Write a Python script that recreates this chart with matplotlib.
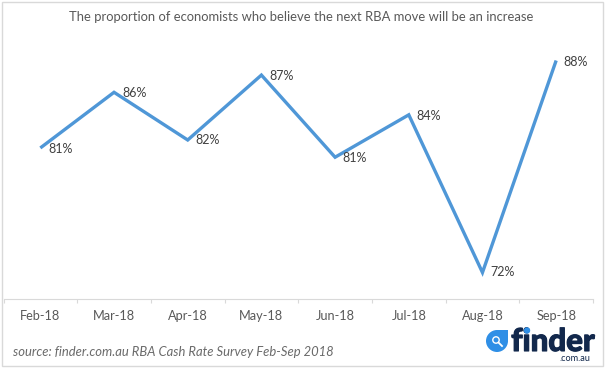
import matplotlib
matplotlib.use("Agg")
import matplotlib.pyplot as plt
from matplotlib.patches import Circle, PathPatch, Rectangle
from matplotlib.path import Path
import matplotlib.patheffects as pe

months = ["Feb-18", "Mar-18", "Apr-18", "May-18", "Jun-18", "Jul-18", "Aug-18", "Sep-18"]
values = [81.4, 85.6, 82.0, 86.9, 80.7, 83.9, 72.0, 88.0]
labels = ["81%", "86%", "82%", "87%", "81%", "84%", "72%", "88%"]

W, H = 605, 368
plt.rcParams["font.family"] = ["Lato", "DejaVu Sans"]

fig = plt.figure(figsize=(W / 100, H / 100), dpi=100)
fig.patches.append(Rectangle((1.5 / W, 1 - 365.5 / H), 601 / W, 364 / H, transform=fig.transFigure,
                             fill=False, ec="#d9d9d9", lw=1))

ax = fig.add_axes([3.5 / W, 1 - 299 / H, 589.5 / W, 265 / H])
x = range(len(months))
ax.plot(x, values, color="#4f97d7", lw=2.4, solid_joinstyle="miter", solid_capstyle="butt")
ax.set_xlim(-0.5, len(months) - 0.5)
ax.set_ylim(70, 90)
ax.set_yticks([])
for s in ("top", "left", "right"):
    ax.spines[s].set_visible(False)
ax.spines["bottom"].set_color("#d9d9d9")
ax.set_xticks([i - 0.5 for i in range(len(months) + 1)], minor=False)
ax.set_xticklabels([])
ax.tick_params(axis="x", length=3.2, color="#d9d9d9", width=0.8)
for i, m in enumerate(months):
    ax.annotate(m, (i, 70), xytext=(0, -17), textcoords="offset pixels", ha="center", va="center",
                fontsize=9.2, color="#595959")

# label offsets in pixels from the point
offsets = [(8, -1), (8, -1), (8, 0), (8, -1), (7, -1), (8, -1), (8, 0), (7, -2)]
for i, (v, lab) in enumerate(zip(values, labels)):
    ax.annotate(lab, (i, v), xytext=offsets[i], textcoords="offset pixels", ha="left", va="center",
                fontsize=9, color="#404040")

fig.text(301 / W, 1 - 17 / H, "The proportion of economists who believe the next RBA move will be an increase",
         ha="center", va="center", fontsize=9.4, color="#595959")
fig.text(13 / W, 1 - 352 / H, "source: finder.com.au RBA Cash Rate Survey Feb-Sep 2018",
         ha="left", va="center", fontsize=9.4, style="italic", color="#6a6a6a")

# finder logo, in pixel coordinates
logo = fig.add_axes([0, 0, 1, 1], facecolor="none")
logo.set_xlim(0, W)
logo.set_ylim(H, 0)
logo.axis("off")
drop = Path([(508, 330), (508, 341), (508, 347), (503, 352), (497, 352), (491, 352), (486, 347),
             (486, 341), (486, 335), (491, 330), (497, 330), (508, 330)],
            [Path.MOVETO, Path.LINETO, Path.CURVE4, Path.CURVE4, Path.CURVE4, Path.CURVE4, Path.CURVE4,
             Path.CURVE4, Path.CURVE4, Path.CURVE4, Path.CURVE4, Path.CLOSEPOLY])
logo.add_patch(PathPatch(drop, fc="#2f8fe6", ec="none"))
logo.add_patch(Circle((496, 340), 3.2, fc="none", ec="white", lw=1))
logo.plot([498.5, 502], [342.5, 346], color="white", lw=1.3)
word = logo.text(553, 351, "finder", ha="center", va="baseline", fontsize=22.5, fontweight="black",
                 color="#12284c")
word.set_path_effects([pe.withStroke(linewidth=0.8, foreground="#12284c")])
logo.add_patch(Circle((527, 330.5), 3.2, fc="#2f8fe6", ec="none", zorder=5))
logo.text(590, 358.5, ".com.au", ha="right", va="center", fontsize=6.6, color="#12284c")

fig.savefig("out.png", dpi=100)
